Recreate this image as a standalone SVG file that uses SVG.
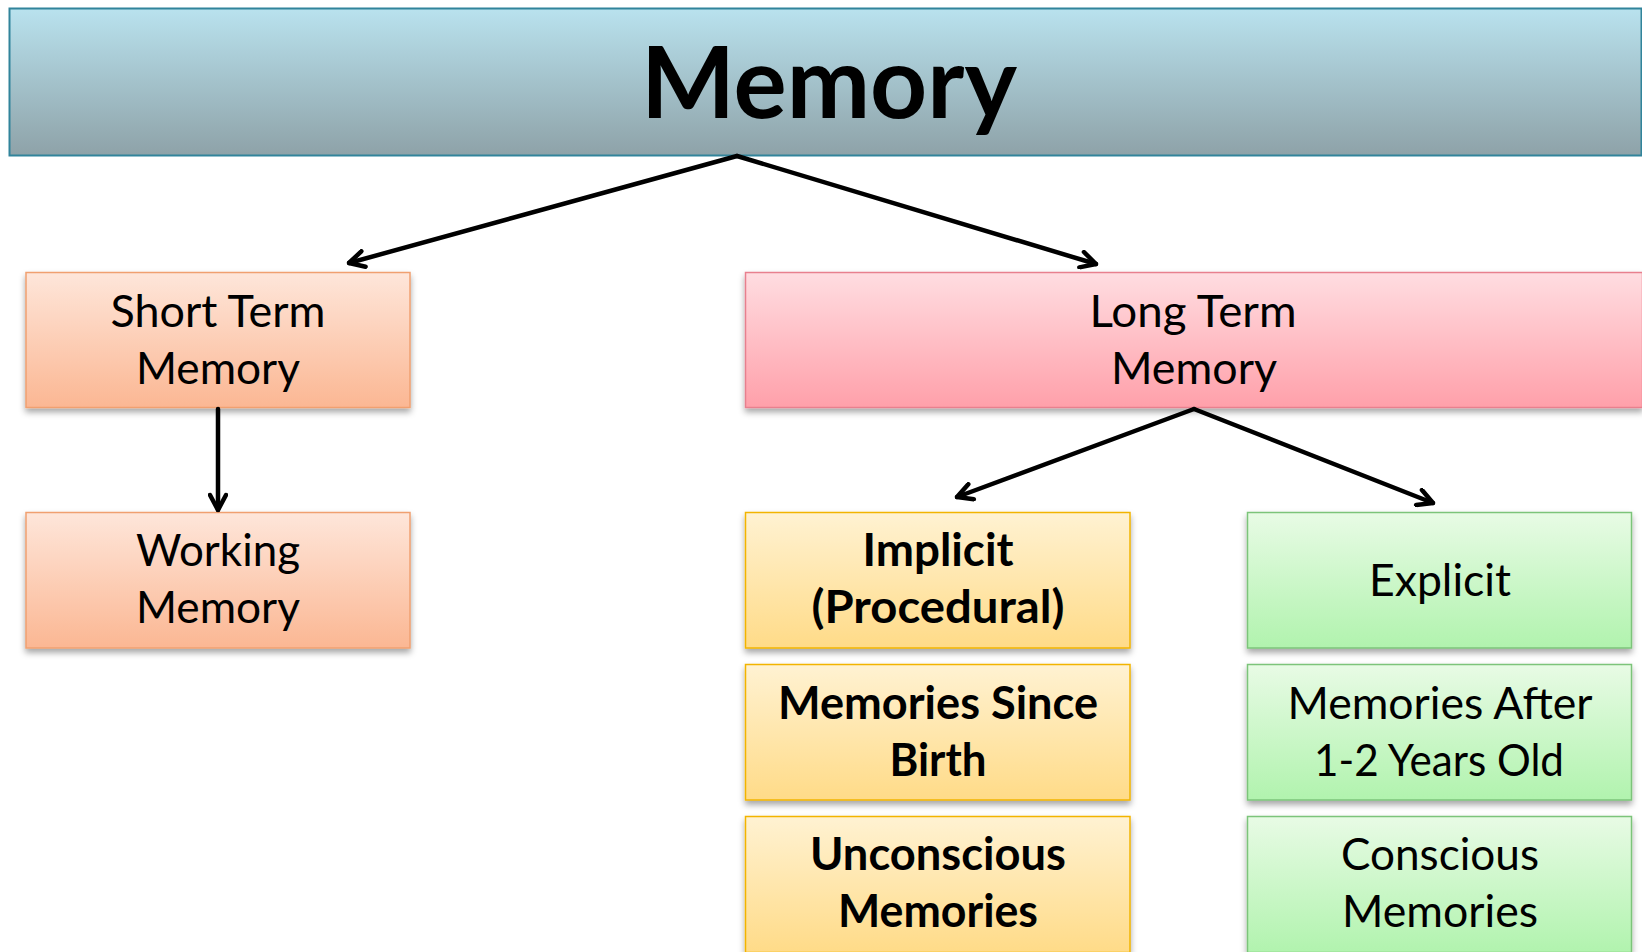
<svg xmlns="http://www.w3.org/2000/svg" width="1642" height="952" viewBox="0 0 1642 952">
<defs>
<style>
.t{font-family:Lato,"Open Sans","Liberation Sans",sans-serif;font-size:45px;fill:#000;text-anchor:middle}
.b{font-weight:bold}
.c{stroke:#000;stroke-width:4.5;fill:none;stroke-linecap:round}
</style>
<linearGradient id="gT" x1="0" y1="0" x2="0" y2="1"><stop offset="0" stop-color="#B9E2EE"/><stop offset="1" stop-color="#8EA2A8"/></linearGradient>
<linearGradient id="gO" x1="0" y1="0" x2="0" y2="1"><stop offset="0" stop-color="#FEE6DA"/><stop offset="1" stop-color="#FBB793"/></linearGradient>
<linearGradient id="gP" x1="0" y1="0" x2="0" y2="1"><stop offset="0" stop-color="#FFDDE1"/><stop offset="1" stop-color="#FFA0AA"/></linearGradient>
<linearGradient id="gY" x1="0" y1="0" x2="0" y2="1"><stop offset="0" stop-color="#FFF2D2"/><stop offset="1" stop-color="#FFDB88"/></linearGradient>
<linearGradient id="gG" x1="0" y1="0" x2="0" y2="1"><stop offset="0" stop-color="#E8FBE5"/><stop offset="1" stop-color="#B1F3AE"/></linearGradient>
<filter id="sh" x="-5%" y="-10%" width="110%" height="130%"><feDropShadow dx="0" dy="4" stdDeviation="3" flood-color="#000" flood-opacity="0.35"/></filter>
<marker id="ah" viewBox="0 0 20 20" refX="18" refY="10" markerWidth="20" markerHeight="20" markerUnits="userSpaceOnUse" orient="auto"><path d="M3,2 L18,10 L3,18" fill="none" stroke="#000" stroke-width="4.5" stroke-linecap="round" stroke-linejoin="round"/></marker>
</defs>
<rect width="1642" height="952" fill="#fff"/>
<g id="memory">
<rect x="9.5" y="8.5" width="1632" height="147" fill="url(#gT)" stroke="#31849B" stroke-width="2"/>
<text class="t b" x="829" y="118" style="font-size:100px" textLength="376" lengthAdjust="spacingAndGlyphs">Memory</text>
</g>
<g id="short-term">
<rect x="26" y="272.5" width="384" height="135" fill="url(#gO)" stroke="#F0A070" stroke-width="1.5" filter="url(#sh)"/>
<text class="t" x="218" y="327" textLength="215" lengthAdjust="spacingAndGlyphs">Short Term</text>
<text class="t" x="218" y="384" textLength="164" lengthAdjust="spacingAndGlyphs">Memory</text>
</g>
<g id="working">
<rect x="26" y="512.5" width="384" height="135.5" fill="url(#gO)" stroke="#F0A070" stroke-width="1.5" filter="url(#sh)"/>
<text class="t" x="218" y="566" textLength="164" lengthAdjust="spacingAndGlyphs">Working</text>
<text class="t" x="218" y="623" textLength="164" lengthAdjust="spacingAndGlyphs">Memory</text>
</g>
<g id="long-term">
<rect x="745.5" y="272.5" width="897" height="135" fill="url(#gP)" stroke="#E8808E" stroke-width="1.5" filter="url(#sh)"/>
<text class="t" x="1193" y="327" textLength="207" lengthAdjust="spacingAndGlyphs">Long Term</text>
<text class="t" x="1194" y="384" textLength="166" lengthAdjust="spacingAndGlyphs">Memory</text>
</g>
<g id="implicit">
<rect x="745.5" y="512.5" width="384.5" height="135.5" fill="url(#gY)" stroke="#F2B400" stroke-width="1.5" filter="url(#sh)"/>
<text class="t b" x="938" y="566" textLength="151" lengthAdjust="spacingAndGlyphs">Implicit</text>
<text class="t b" x="938" y="623" textLength="253" lengthAdjust="spacingAndGlyphs">(Procedural)</text>
</g>
<g id="since-birth">
<rect x="745.5" y="664.5" width="384.5" height="135.5" fill="url(#gY)" stroke="#F2B400" stroke-width="1.5" filter="url(#sh)"/>
<text class="t b" x="938" y="719" textLength="320" lengthAdjust="spacingAndGlyphs">Memories Since</text>
<text class="t b" x="938" y="776" textLength="97" lengthAdjust="spacingAndGlyphs">Birth</text>
</g>
<g id="unconscious">
<rect x="745.5" y="816.5" width="384.5" height="136" fill="url(#gY)" stroke="#F2B400" stroke-width="1.5" filter="url(#sh)"/>
<text class="t b" x="938" y="870" textLength="256" lengthAdjust="spacingAndGlyphs">Unconscious</text>
<text class="t b" x="938" y="927" textLength="200" lengthAdjust="spacingAndGlyphs">Memories</text>
</g>
<g id="explicit">
<rect x="1247.5" y="512.5" width="384" height="135.5" fill="url(#gG)" stroke="#7CC47A" stroke-width="1.5" filter="url(#sh)"/>
<text class="t" x="1440" y="596" textLength="142" lengthAdjust="spacingAndGlyphs">Explicit</text>
</g>
<g id="after-1-2">
<rect x="1247.5" y="664.5" width="384" height="135.5" fill="url(#gG)" stroke="#7CC47A" stroke-width="1.5" filter="url(#sh)"/>
<text class="t" x="1440" y="719" textLength="305" lengthAdjust="spacingAndGlyphs">Memories After</text>
<text class="t" x="1439" y="776" textLength="250" lengthAdjust="spacingAndGlyphs">1-2 Years Old</text>
</g>
<g id="conscious">
<rect x="1247.5" y="816.5" width="384" height="136" fill="url(#gG)" stroke="#7CC47A" stroke-width="1.5" filter="url(#sh)"/>
<text class="t" x="1440" y="870" textLength="198" lengthAdjust="spacingAndGlyphs">Conscious</text>
<text class="t" x="1440" y="927" textLength="196" lengthAdjust="spacingAndGlyphs">Memories</text>
</g>
<g id="connectors">
<line class="c" x1="737" y1="156" x2="349" y2="263" marker-end="url(#ah)"/>
<line class="c" x1="737" y1="156" x2="1096" y2="264" marker-end="url(#ah)"/>
<line class="c" x1="218" y1="409" x2="218" y2="510" marker-end="url(#ah)"/>
<line class="c" x1="1194" y1="409" x2="957" y2="497" marker-end="url(#ah)"/>
<line class="c" x1="1194" y1="409" x2="1433" y2="503" marker-end="url(#ah)"/>
</g>
</svg>
